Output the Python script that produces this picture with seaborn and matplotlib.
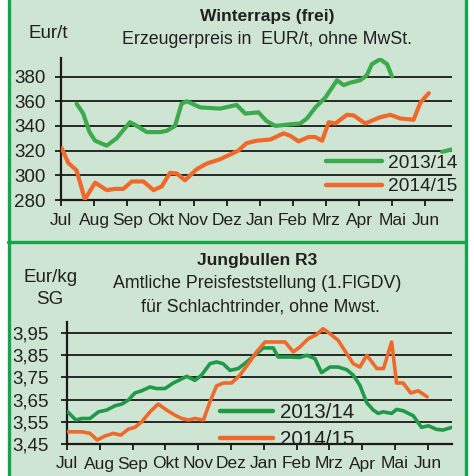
import matplotlib
matplotlib.use('Agg')
import matplotlib.pyplot as plt
import seaborn as sns
import pandas as pd
from matplotlib.lines import Line2D
from matplotlib.patches import Rectangle

sns.set_theme(style='white')
plt.rcParams['font.family'] = ['Liberation Sans', 'DejaVu Sans']

months = ['Jul', 'Aug', 'Sep', 'Okt', 'Nov', 'Dez', 'Jan', 'Feb', 'Mrz', 'Apr', 'Mai', 'Jun']
seasons = ['2013/14', '2014/15']

# Winterraps, EUR/t  (x = months since start of July)
raps_1314_x = [0.47, 0.67, 0.86, 1.03, 1.38, 1.68, 2.08, 2.29, 2.59, 2.99, 3.19, 3.44, 3.64, 3.8,
               4.2, 4.8, 5.3, 5.56, 5.96, 6.2, 6.47, 6.82, 7.22, 7.42, 7.68, 7.98, 8.33, 8.53,
               8.73, 9.03, 9.23, 9.38, 9.63, 9.84, 9.99]
raps_1314_y = [358, 350, 335, 328, 324, 330, 343, 340, 335, 335, 336, 340, 358, 360,
               355, 354, 357, 350, 351, 344, 340, 341, 342, 346, 355, 363, 377, 373,
               375, 377, 381, 390, 394, 390, 380]
raps_1314_tail_x = [11.5, 11.8]
raps_1314_tail_y = [319, 321]

raps_1415_x = [0.02, 0.22, 0.47, 0.72, 1.03, 1.38, 1.63, 1.88, 2.14, 2.49, 2.79, 3.04, 3.29, 3.49,
               3.74, 4.1, 4.4, 4.8, 5.2, 5.35, 5.6, 5.9, 6.32, 6.72, 6.92, 7.17, 7.47, 7.67,
               7.88, 8.08, 8.28, 8.63, 8.83, 9.18, 9.63, 9.94, 10.24, 10.64, 10.85, 11.1]
raps_1415_y = [322, 310, 304, 280.5, 294, 288, 289, 289, 295, 295, 288, 291, 302, 301.5,
               296, 305, 309.5, 313, 318, 320, 326, 328, 329, 334, 332, 327.5, 331, 331,
               328, 343, 342, 349, 348.5, 342, 347, 349, 346, 345, 359, 366.5]

# Jungbullen R3, EUR/kg SG
bull_1314_x = [0.02, 0.27, 0.45, 0.7, 0.96, 1.21, 1.46, 1.67, 1.87, 2.07, 2.28, 2.53, 2.73, 2.99,
               3.24, 3.45, 3.65, 3.9, 4.1, 4.36, 4.56, 4.76, 4.97, 5.22, 5.48, 5.73, 5.98, 6.29,
               6.44, 6.8, 7.1, 7.31, 7.56, 7.76, 8.02, 8.27, 8.53, 8.73, 8.93, 9.14, 9.34, 9.49,
               9.64, 9.9, 10.05, 10.25, 10.56, 10.81, 11.02, 11.27, 11.47, 11.73]
bull_1314_y = [3.595, 3.558, 3.565, 3.565, 3.595, 3.603, 3.622, 3.63, 3.648, 3.68, 3.69, 3.707,
               3.70, 3.70, 3.725, 3.74, 3.755, 3.737, 3.76, 3.812, 3.82, 3.812, 3.782, 3.79,
               3.82, 3.85, 3.883, 3.883, 3.842, 3.842, 3.84, 3.85, 3.835, 3.772, 3.797, 3.797,
               3.785, 3.76, 3.715, 3.636, 3.603, 3.588, 3.595, 3.588, 3.606, 3.6, 3.577, 3.525,
               3.532, 3.516, 3.513, 3.525]

bull_1415_x = [0.02, 0.45, 0.7, 0.92, 1.16, 1.41, 1.64, 1.87, 2.07, 2.28, 2.53, 2.78, 3.04, 3.29,
               3.5, 3.7, 3.9, 4.16, 4.36, 4.56, 4.77, 5.02, 5.27, 5.53, 5.78, 6.04, 6.39, 6.65,
               6.9, 7.1, 7.36, 7.61, 7.81, 8.02, 8.27, 8.53, 8.73, 8.93, 9.14, 9.45, 9.65, 9.9,
               10.05, 10.25, 10.48, 10.71, 10.98]
bull_1415_y = [3.505, 3.505, 3.498, 3.468, 3.486, 3.498, 3.49, 3.517, 3.525, 3.55, 3.595, 3.63,
               3.603, 3.58, 3.565, 3.558, 3.565, 3.558, 3.64, 3.712, 3.725, 3.725, 3.76, 3.812,
               3.865, 3.91, 3.91, 3.91, 3.865, 3.887, 3.925, 3.943, 3.97, 3.947, 3.917, 3.857,
               3.812, 3.797, 3.85, 3.79, 3.79, 3.91, 3.725, 3.725, 3.68, 3.69, 3.663]

raps_ticks = [280, 300, 320, 340, 360, 380]
bull_ticks = [3.45, 3.55, 3.65, 3.75, 3.85, 3.95]

BG = '#cde5d2'
BORDER = '#14a54b'
ORANGE = '#f0692a'
TXT = '#231f20'

W, H = 474, 476
fig = plt.figure(figsize=(W / 100, H / 100), dpi=100, facecolor='white')

def fx(px):
    return px / W

def fy(py):
    return 1 - py / H

fig.patches.append(Rectangle((fx(8), 0), fx(458), 1, transform=fig.transFigure,
                             facecolor=BG, edgecolor='none', zorder=-5))
for xp in (8.5, 465.5):
    fig.add_artist(Line2D([fx(xp), fx(xp)], [0, 1], color=BORDER, lw=2.4, zorder=-1))
fig.add_artist(Line2D([fx(8), fx(466)], [fy(241.5), fy(241.5)], color=BORDER, lw=2.4, zorder=-1))


def style_axis(ax, xmax, ylim, yticks, ylabels, pad_y):
    ax.set_facecolor('none')
    ax.set_xlim(0, xmax)
    ax.set_ylim(*ylim)
    ax.set_xticks(range(12))
    ax.set_xticklabels(months)
    ax.set_yticks(yticks)
    ax.set_yticklabels(ylabels)
    for yv in yticks[1:]:
        ax.axhline(yv, color='#1a1a1a', lw=1.3, zorder=1)
    for s in ('top', 'right'):
        ax.spines[s].set_visible(False)
    for s in ('left', 'bottom'):
        ax.spines[s].set_color('#1a1a1a')
        ax.spines[s].set_linewidth(1.6)
    ax.tick_params(axis='x', direction='out', length=4, width=1.3, color='#1a1a1a',
                   labelsize=12.5, labelcolor=TXT, pad=5, bottom=True)
    ax.tick_params(axis='y', direction='out', length=4, width=1.3, color='#1a1a1a',
                   labelsize=13.5, labelcolor=TXT, pad=pad_y, left=True)
    ax.set_xlabel('')
    ax.set_ylabel('')


# ---- Winterraps ----
ax1 = fig.add_axes([fx(61), fy(200), fx(452 - 61), (200 - 58) / H])
raps = pd.concat([
    pd.DataFrame({'Monat': raps_1314_x, 'Preis': raps_1314_y, 'Saison': seasons[0]}),
    pd.DataFrame({'Monat': raps_1415_x, 'Preis': raps_1415_y, 'Saison': seasons[1]}),
])
pal_top = {seasons[0]: '#3dab4c', seasons[1]: ORANGE}
sns.lineplot(data=raps, x='Monat', y='Preis', hue='Saison', palette=pal_top, sort=False,
             lw=3.0, ax=ax1, legend=False, zorder=3, solid_capstyle='round')
sns.lineplot(x=raps_1314_tail_x, y=raps_1314_tail_y, color=pal_top[seasons[0]], lw=3.0,
             ax=ax1, zorder=3, solid_capstyle='round')
style_axis(ax1, 11.8, (280, 395), raps_ticks, [str(t) for t in raps_ticks], 7)
handles = [Line2D([], [], color=pal_top[s], lw=3.2) for s in seasons]
ax1.legend(handles, seasons, loc='center right', bbox_to_anchor=(fx(457), fy(175)),
           bbox_transform=fig.transFigure, frameon=False, fontsize=13.8, handlelength=2.9,
           handletextpad=0.3, labelspacing=0.3, borderpad=0, borderaxespad=0,
           labelcolor=TXT)

fig.text(fx(267), fy(17), 'Winterraps (frei)', ha='center', va='center', fontsize=12.5,
         fontweight='bold', color=TXT)
fig.text(fx(267), fy(40), 'Erzeugerpreis in  EUR/t, ohne MwSt.', ha='center', va='center',
         fontsize=12.8, color=TXT)
fig.text(fx(48), fy(33), 'Eur/t', ha='center', va='center', fontsize=13.5, color=TXT)

# ---- Jungbullen ----
ax2 = fig.add_axes([fx(67), fy(444), fx(452 - 67), (444 - 322) / H])
bull = pd.concat([
    pd.DataFrame({'Monat': bull_1314_x, 'Preis': bull_1314_y, 'Saison': seasons[0]}),
    pd.DataFrame({'Monat': bull_1415_x, 'Preis': bull_1415_y, 'Saison': seasons[1]}),
])
pal_bot = {seasons[0]: '#1f9a48', seasons[1]: ORANGE}
sns.lineplot(data=bull, x='Monat', y='Preis', hue='Saison', palette=pal_bot, sort=False,
             lw=2.6, ax=ax2, legend=False, zorder=3)
style_axis(ax2, 11.74, (3.45, 4.0), bull_ticks,
           [f'{t:.2f}'.replace('.', ',') for t in bull_ticks], 9)
handles = [Line2D([], [], color=pal_bot[s], lw=3.2) for s in seasons]
ax2.legend(handles, seasons, loc='center right', bbox_to_anchor=(fx(354), fy(426)),
           bbox_transform=fig.transFigure, frameon=False, fontsize=14.8, handlelength=2.6,
           handletextpad=0.3, labelspacing=0.4, borderpad=0, borderaxespad=0,
           labelcolor=TXT)

fig.text(fx(257), fy(260), 'Jungbullen R3', ha='center', va='center', fontsize=12.5,
         fontweight='bold', color=TXT)
fig.text(fx(257), fy(283), 'Amtliche Preisfeststellung (1.FlGDV)', ha='center', va='center',
         fontsize=12.8, color=TXT)
fig.text(fx(260), fy(307), 'für Schlachtrinder, ohne Mwst.', ha='center', va='center',
         fontsize=12.8, color=TXT)
fig.text(fx(51), fy(277), 'Eur/kg', ha='center', va='center', fontsize=13.5, color=TXT)
fig.text(fx(50), fy(300), 'SG', ha='center', va='center', fontsize=13.5, color=TXT)

fig.savefig('out.png', dpi=100, facecolor='white')
